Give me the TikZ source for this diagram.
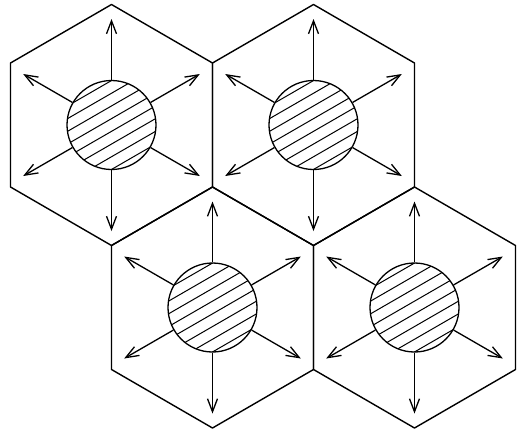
\documentclass[tikz,border=0pt]{standalone}
\usetikzlibrary{arrows.meta}
\begin{document}
\begin{tikzpicture}[x=1pt,y=-1pt,line join=round,
  hexline/.style={line width=1.4pt},
  disc/.style={circle,draw,line width=1.3pt,minimum size=89pt,inner sep=0pt},
  ray/.style={line width=1.3pt,-{Straight Barb[length=13pt,width=10pt]}},
  hatch/.style={line width=1pt}]
\useasboundingbox (0,0) rectangle (523,432);
\foreach \n/\cx/\cy in {tl/111.5/125, tr/313.5/125, bl/212.5/307.5, br/414.5/307.5}{
  \begin{scope}[shift={(\cx,\cy)}]
    \draw[hexline] (0,-120.5) -- (101,-62) -- (101,62) -- (0,120.5) -- (-101,62) -- (-101,-62) -- cycle;
    \begin{scope}
      \clip (0,0) circle[radius=44.5pt];
      \foreach \k in {-3.5,-2.5,...,3.5}{
        \draw[hatch] ({11*\k*0.5-60*0.866},{11*\k*0.866+60*0.5}) -- ({11*\k*0.5+60*0.866},{11*\k*0.866-60*0.5});
      }
    \end{scope}
    \node[disc] (c\n) at (0,0) {};
    \foreach \a in {30,90,150,210,270,330}{
      \pgfmathsetmacro{\L}{ifthenelse(abs(sin(\a))>0.9,106,102)}
      \coordinate (t\n\a) at ({\L*cos(\a)},{-\L*sin(\a)});
      \draw[ray] (c\n.\a) -- (t\n\a);
    }
  \end{scope}
}
\end{tikzpicture}
\end{document}
